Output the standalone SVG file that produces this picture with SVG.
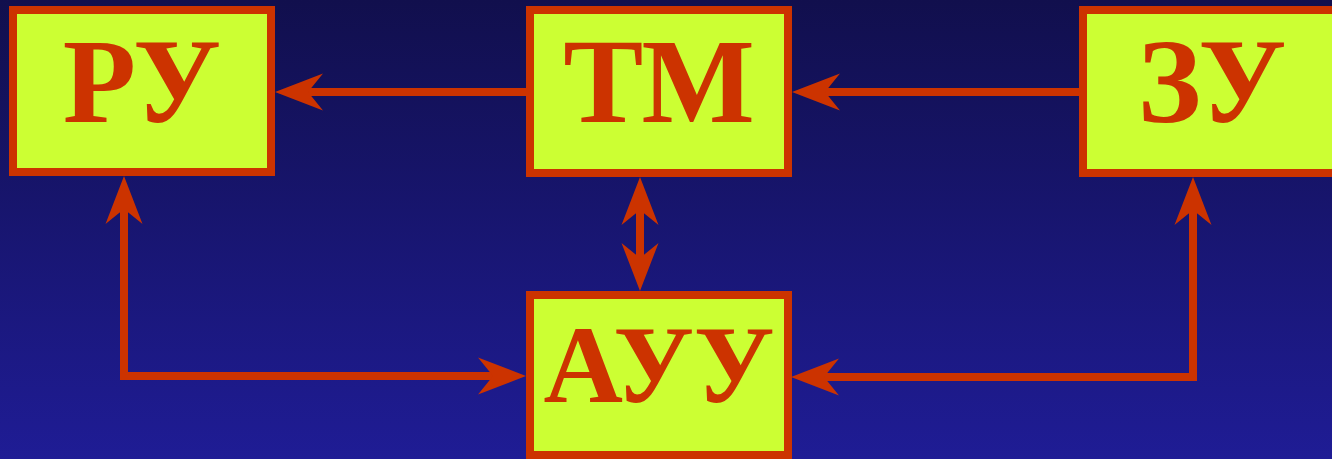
<svg xmlns="http://www.w3.org/2000/svg" width="1332" height="459" viewBox="0 0 1332 459">
<defs>
<linearGradient id="bg" x1="0" y1="0" x2="0" y2="1">
<stop offset="0" stop-color="#110F4D"/>
<stop offset="1" stop-color="#1F1C95"/>
</linearGradient>
<marker id="ah" viewBox="-16 -20 50 40" markerUnits="userSpaceOnUse" markerWidth="50" markerHeight="40" refX="0" refY="0" orient="auto-start-reverse">
<path d="M33,0 L-15,-18.5 L0,0 L-15,18.5 Z" fill="#CC3300"/>
</marker>
<style>
.box{fill:#CCFF33;stroke:#CC3300;stroke-width:8}
.lbl{font-family:"Liberation Serif","Times New Roman",serif;font-weight:bold;font-size:120px;fill:#CC3300;text-anchor:middle}
.conn{fill:none;stroke:#CC3300;stroke-width:8;stroke-linejoin:miter}
</style>
</defs>
<rect width="1332" height="459" fill="url(#bg)"/>
<g id="connectors">
<path class="conn" d="M526,92 L308,92" marker-end="url(#ah)"/>
<path class="conn" d="M1079,92 L825,92" marker-end="url(#ah)"/>
<path class="conn" d="M640,210 L640,258" marker-start="url(#ah)" marker-end="url(#ah)"/>
<path class="conn" d="M124,209 L124,376 L493,376" marker-start="url(#ah)" marker-end="url(#ah)"/>
<path class="conn" d="M1193,210 L1193,377 L824,377" marker-start="url(#ah)" marker-end="url(#ah)"/>
</g>
<g id="node-ru">
<rect class="box" x="13" y="10" width="258" height="162"/>
<text class="lbl" x="142" y="122">РУ</text>
</g>
<g id="node-tm">
<rect class="box" x="530" y="10" width="258" height="163"/>
<text class="lbl" x="659" y="122">ТМ</text>
</g>
<g id="node-zu">
<rect class="box" x="1083" y="10" width="258" height="163"/>
<text class="lbl" x="1212" y="122">ЗУ</text>
</g>
<g id="node-auu">
<rect class="box" x="530" y="295" width="258" height="160"/>
<text class="lbl" x="659" y="402" style="font-size:110px">АУУ</text>
</g>
</svg>
